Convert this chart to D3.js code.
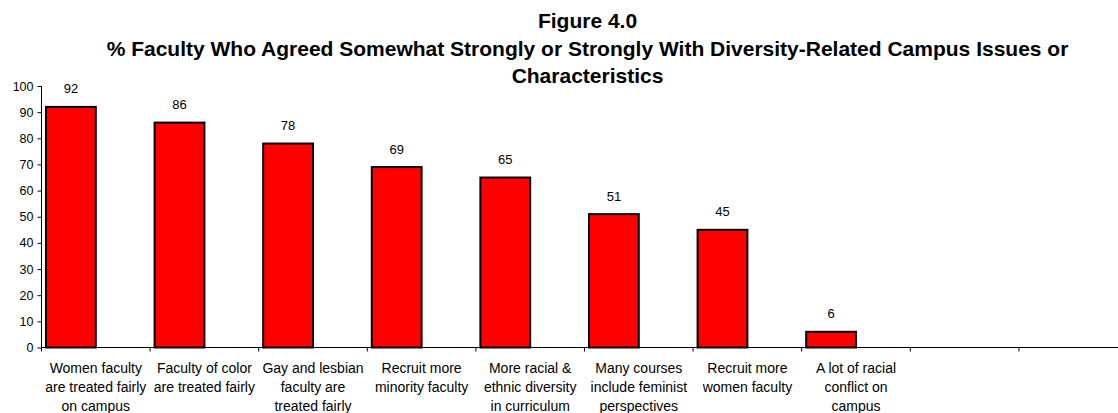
<!DOCTYPE html>
<html>
<head>
<meta charset="utf-8">
<script src="https://cdn.jsdelivr.net/npm/d3@7"></script>
<style>
  html, body { margin: 0; padding: 0; background: #fff; }
  svg { display: block; font-family: Arial, "Liberation Sans", sans-serif; }
</style>
</head>
<body>
<svg id="chart" width="1118" height="413"></svg>
<script>
// Chart data
const titleLines = [
  "Figure 4.0",
  "% Faculty Who Agreed Somewhat Strongly or Strongly With Diversity-Related Campus Issues or",
  "Characteristics"
];
const categories = [
  "Women faculty\nare treated fairly\non campus",
  "Faculty of color\nare treated fairly",
  "Gay and lesbian\nfaculty are\ntreated fairly",
  "Recruit more\nminority faculty",
  "More racial &\nethnic diversity\nin curriculum",
  "Many courses\ninclude feminist\nperspectives",
  "Recruit more\nwomen faculty",
  "A lot of racial\nconflict on\ncampus",
  "",
  ""
];
const values = [92, 86, 78, 69, 65, 51, 45, 6, null, null];
const yTicks = [0, 10, 20, 30, 40, 50, 60, 70, 80, 90, 100];

const svg = d3.select("#chart");
const W = 1118;

// Plot frame
const x0 = 41.5, x1 = 1127.5;
const yBottom = 347.5, yTop = 86;

const x = d3.scaleBand().domain(d3.range(categories.length)).range([x0, x1]).paddingInner(0).paddingOuter(0);
const y = d3.scaleLinear().domain([0, 100]).range([yBottom, yTop]);

// Clustered-bar geometry: two series per slot, second one empty
const gapRatio = 0.18;
const barW = x.bandwidth() / (2 + gapRatio);
const barOffset = barW * gapRatio / 2;

// Title
const title = svg.append("g").attr("font-weight", "bold").attr("font-size", "21px").attr("fill", "#000");
title.selectAll("text").data(titleLines).join("text")
  .attr("x", 587.5)
  .attr("y", (d, i) => 28 + i * 27.5)
  .attr("text-anchor", "middle")
  .text(d => d);

// Bars
const data = values.map((v, i) => ({ i, v })).filter(d => d.v != null);
svg.append("g").selectAll("rect").data(data).join("rect")
  .attr("x", d => x(d.i) + barOffset)
  .attr("y", d => y(d.v))
  .attr("width", barW)
  .attr("height", d => y(0) - y(d.v))
  .attr("fill", "#ff0000")
  .attr("stroke", "#000")
  .attr("stroke-width", 2);

// Value labels
svg.append("g").attr("font-size", "13px").attr("fill", "#000")
  .selectAll("text").data(data).join("text")
  .attr("x", d => x(d.i) + barOffset + barW / 2)
  .attr("y", d => y(d.v) - 13.5)
  .attr("text-anchor", "middle")
  .text(d => d.v);

// Y axis
const yAxis = d3.axisLeft(y).tickValues(yTicks).tickSize(4).tickPadding(4).tickFormat(d3.format("d"));
const gy = svg.append("g").attr("transform", `translate(${x0},0)`).call(yAxis);
gy.select(".domain").attr("stroke", "#000").attr("d", `M-0,${yTop}V${yBottom}`);
gy.selectAll(".tick line").attr("stroke", "#000");
gy.selectAll(".tick text").attr("font-size", "12.5px").attr("font-family", "Arial, 'Liberation Sans', sans-serif").attr("fill", "#000");

// X axis: boundary ticks between category slots
const gx = svg.append("g");
gx.append("line")
  .attr("x1", x0).attr("x2", W)
  .attr("y1", yBottom).attr("y2", yBottom)
  .attr("stroke", "#000");
gx.selectAll("line.tick").data(d3.range(categories.length + 1)).join("line")
  .attr("class", "tick")
  .attr("x1", i => x0 + i * x.bandwidth())
  .attr("x2", i => x0 + i * x.bandwidth())
  .attr("y1", yBottom)
  .attr("y2", yBottom + 4)
  .attr("stroke", "#000");

// Category labels
const lbl = svg.append("g").attr("font-size", "14px").attr("fill", "#000");
categories.forEach((c, i) => {
  if (!c) return;
  const t = lbl.append("text")
    .attr("x", x(i) + x.bandwidth() / 2)
    .attr("y", 372.5)
    .attr("text-anchor", "middle");
  c.split("\n").forEach((line, k) => {
    t.append("tspan")
      .attr("x", x(i) + x.bandwidth() / 2)
      .attr("y", 372.5 + k * 19)
      .text(line);
  });
});
</script>
</body>
</html>
